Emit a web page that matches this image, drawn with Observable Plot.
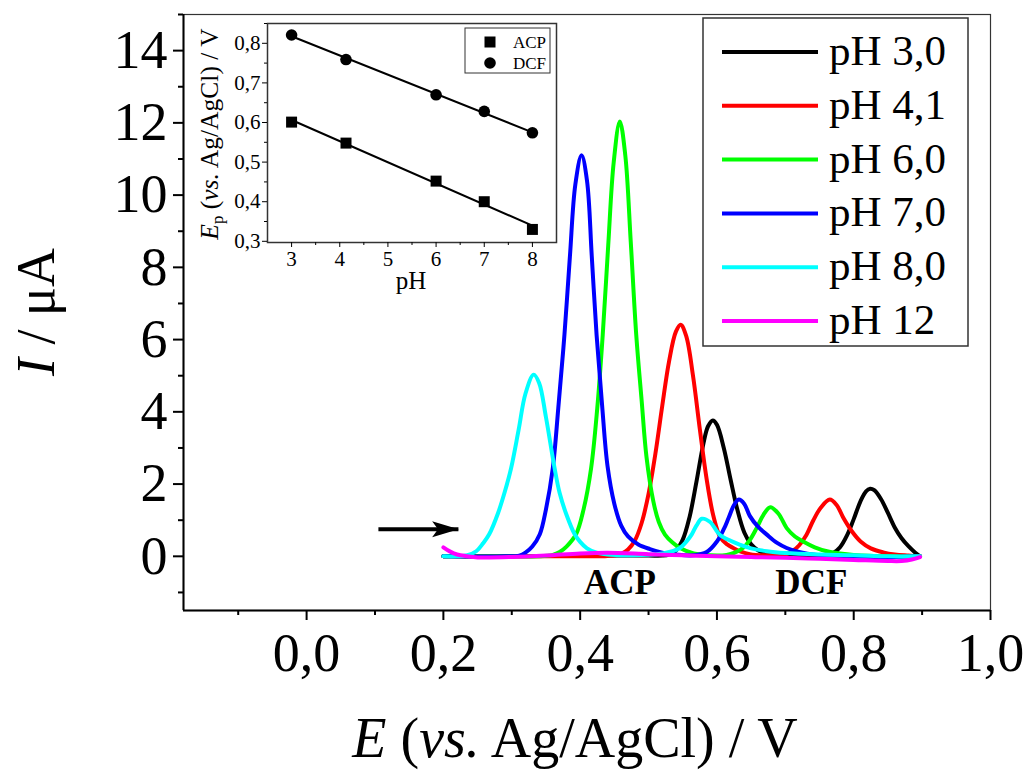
<!DOCTYPE html>
<html><head><meta charset="utf-8">
<script src="https://cdn.jsdelivr.net/npm/d3@7"></script>
<script src="https://cdn.jsdelivr.net/npm/@observablehq/plot@0.6"></script>
<style>
body{margin:0;background:#fff;}
#wrap{position:relative;width:1026px;height:771px;overflow:hidden;}
#inset{position:absolute;left:180px;top:0;}
</style></head><body><div id="wrap"><div id="main"></div><div id="inset"></div></div>
<script>
// ---- series (E / V, I / µA) ----
const seriesNames = ["pH 3,0","pH 4,1","pH 6,0","pH 7,0","pH 8,0","pH 12"];
const seriesColors = ["#000000","#ff0000","#00ff00","#0000ff","#00ffff","#ff00ff"];
const pH30 = [[0.20,0.0],[0.30,0.0],[0.40,0.02],[0.50,0.02],[0.52,0.02],[0.53,0.05],[0.54,0.16],[0.55,0.46],[0.56,1.09],[0.57,2.06],[0.58,3.1],[0.587,3.6],[0.594,3.76],[0.60,3.64],[0.61,3.0],[0.62,2.12],[0.63,1.28],[0.64,0.66],[0.65,0.33],[0.66,0.17],[0.673,0.07],[0.70,0.03],[0.75,0.03],[0.765,0.06],[0.77,0.09],[0.78,0.25],[0.79,0.57],[0.80,1.03],[0.81,1.53],[0.818,1.8],[0.824,1.87],[0.83,1.83],[0.84,1.58],[0.85,1.2],[0.86,0.8],[0.87,0.5],[0.88,0.28],[0.89,0.1],[0.897,0.0]];
const pH41 = [[0.20,0.0],[0.30,0.0],[0.40,0.0],[0.44,0.01],[0.46,0.07],[0.47,0.19],[0.48,0.44],[0.49,0.93],[0.50,1.73],[0.51,2.84],[0.52,4.16],[0.53,5.4],[0.54,6.22],[0.547,6.41],[0.555,6.1],[0.565,5.0],[0.575,3.52],[0.585,2.13],[0.595,1.1],[0.605,0.52],[0.615,0.33],[0.624,0.23],[0.635,0.13],[0.648,0.06],[0.67,0.03],[0.70,0.05],[0.71,0.14],[0.72,0.3],[0.731,0.6],[0.741,1.0],[0.752,1.35],[0.765,1.57],[0.775,1.42],[0.785,1.06],[0.797,0.7],[0.81,0.41],[0.825,0.22],[0.843,0.11],[0.86,0.05],[0.88,0.02],[0.897,0.0]];
const pH60 = [[0.20,0.0],[0.30,0.0],[0.34,0.0],[0.36,0.04],[0.37,0.12],[0.38,0.27],[0.394,0.61],[0.405,1.3],[0.416,2.44],[0.425,4.1],[0.433,6.13],[0.441,8.6],[0.449,10.9],[0.458,12.04],[0.466,11.1],[0.474,8.7],[0.482,6.13],[0.49,4.29],[0.497,2.75],[0.507,1.52],[0.515,0.95],[0.524,0.6],[0.535,0.38],[0.546,0.23],[0.566,0.08],[0.59,0.03],[0.614,0.04],[0.626,0.1],[0.638,0.23],[0.648,0.45],[0.658,0.78],[0.668,1.15],[0.678,1.36],[0.69,1.18],[0.702,0.78],[0.714,0.55],[0.726,0.41],[0.743,0.25],[0.761,0.14],[0.78,0.08],[0.80,0.04],[0.85,0.0],[0.897,0.0]];
const pH70 = [[0.20,0.0],[0.29,0.0],[0.311,0.02],[0.32,0.1],[0.33,0.27],[0.341,0.61],[0.35,1.3],[0.36,2.44],[0.368,4.1],[0.377,6.13],[0.385,8.3],[0.393,10.3],[0.402,11.1],[0.41,10.4],[0.417,8.3],[0.424,6.13],[0.432,4.2],[0.44,2.5],[0.45,1.45],[0.46,0.85],[0.47,0.55],[0.485,0.33],[0.502,0.2],[0.52,0.1],[0.54,0.05],[0.566,0.03],[0.585,0.12],[0.60,0.41],[0.61,0.75],[0.617,1.06],[0.625,1.42],[0.632,1.57],[0.64,1.45],[0.648,1.12],[0.66,0.82],[0.673,0.6],[0.688,0.37],[0.702,0.23],[0.72,0.12],[0.746,0.04],[0.80,0.0],[0.85,-0.02],[0.897,0.0]];
const pH80 = [[0.20,0.0],[0.22,0.0],[0.235,0.03],[0.248,0.14],[0.258,0.36],[0.267,0.61],[0.28,1.2],[0.29,1.8],[0.299,2.44],[0.31,3.5],[0.32,4.5],[0.332,5.03],[0.34,4.8],[0.35,3.85],[0.3626,2.44],[0.37,1.75],[0.38,1.15],[0.392,0.61],[0.40,0.4],[0.41,0.22],[0.424,0.1],[0.44,0.05],[0.47,0.03],[0.50,0.04],[0.521,0.08],[0.535,0.14],[0.546,0.23],[0.555,0.4],[0.563,0.6],[0.57,0.85],[0.578,1.04],[0.59,0.95],[0.604,0.6],[0.62,0.43],[0.634,0.32],[0.65,0.22],[0.673,0.14],[0.70,0.09],[0.75,0.05],[0.80,0.03],[0.85,0.0],[0.897,0.0]];
const pH12 = [[0.20,0.25],[0.21,0.13],[0.22,0.05],[0.235,0.0],[0.25,-0.03],[0.30,-0.02],[0.35,0.02],[0.40,0.08],[0.44,0.1],[0.50,0.06],[0.55,0.03],[0.60,0.0],[0.65,-0.02],[0.70,-0.04],[0.75,-0.07],[0.80,-0.1],[0.85,-0.13],[0.87,-0.13],[0.885,-0.09],[0.897,-0.02]];
const curves = [pH30, pH41, pH60, pH70, pH80, pH12];

const xTicks = [0, 0.2, 0.4, 0.6, 0.8, 1.0];
const xMinorTicks = [-0.1, 0.1, 0.3, 0.5, 0.7, 0.9];
const yTicks = [0, 2, 4, 6, 8, 10, 12, 14];
const yMinorTicks = [-1, 1, 3, 5, 7, 9, 11, 13, 15];
const arrowE = [0.105, 0.222];
const arrowI = [0.75, 0.75];
const peakLabels = ["ACP", "DCF"];
const peakLabelE = [0.458, 0.738];
const peakLabelI = [-0.73, -0.73];

// ---- inset: peak potential vs pH ----
const insetPH = [3, 4.13, 6, 7, 8];
const acpEp = [0.601, 0.548, 0.452, 0.400, 0.330];
const dcfEp = [0.821, 0.759, 0.670, 0.628, 0.574];
const insetXTicks = [3, 4, 5, 6, 7, 8];
const insetXMinor = [3.5, 4.5, 5.5, 6.5, 7.5];
const insetYTicks = [0.3, 0.4, 0.5, 0.6, 0.7, 0.8];
const insetYMinor = [0.35, 0.45, 0.55, 0.65, 0.75, 0.85];
const insetLegend = ["ACP", "DCF"];

const FONT = "'Liberation Serif', 'Times New Roman', Times, serif";
const fmt = d => d.toFixed(1).replace(".", ",");
const rows = curves.flatMap((c, i) => c.map(([E, I]) => ({E, I, s: seriesNames[i]})));
const arrowRow = [{x1: arrowE[0], x2: arrowE[1], y1: arrowI[0], y2: arrowI[1]}];
const labelRows = peakLabels.map((t, i) => ({t, E: peakLabelE[i], I: peakLabelI[i]}));

const stealth = {draw(ctx, size) {
  const L = Math.sqrt(size);
  ctx.moveTo(L * 0.5, 0); ctx.lineTo(-L * 0.5, -L * 0.3); ctx.lineTo(-L * 0.28, 0); ctx.lineTo(-L * 0.5, L * 0.3); ctx.closePath();
}};

const main = Plot.plot({
  width: 1026, height: 771,
  marginLeft: 183, marginRight: 36, marginTop: 14, marginBottom: 161,
  style: {fontFamily: FONT, fontSize: "54px", background: "#fff", color: "#000", overflow: "visible"},
  x: {domain: [-0.18, 1.0]},
  y: {domain: [-1.5, 15]},
  color: {domain: seriesNames, range: seriesColors},
  marks: [
    Plot.frame({stroke: "#333", strokeWidth: 1.2}),
    Plot.ruleX([-0.18], {stroke: "#000", strokeWidth: 2}),
    Plot.ruleY([-1.5], {stroke: "#000", strokeWidth: 2}),
    Plot.axisX({ticks: xTicks, tickSize: 10, tickPadding: 12, tickFormat: fmt, label: null, strokeWidth: 2}),
    Plot.axisX({ticks: xMinorTicks, tickSize: 5, tickFormat: () => "", label: null, strokeWidth: 2}),
    Plot.axisY({ticks: yTicks, tickSize: 10, tickPadding: 6, tickFormat: d => String(d), label: null, strokeWidth: 2}),
    Plot.axisY({ticks: yMinorTicks, tickSize: 5, tickFormat: () => "", label: null, strokeWidth: 2}),
    Plot.line(rows, {x: "E", y: "I", z: "s", stroke: "s", strokeWidth: 4, curve: "catmull-rom"}),
    Plot.link(arrowRow, {x1: "x1", y1: "y1", x2: "x2", y2: "y2", stroke: "#000", strokeWidth: 4, insetRight: 18}),
    Plot.dot(arrowRow, {x: "x2", y: "y2", symbol: stealth, r: 15, fill: "#000", stroke: null, dx: -13}),
    Plot.text(labelRows, {x: "E", y: "I", text: "t", fontSize: 35, fontWeight: "bold", fill: "#000", lineAnchor: "middle", textAnchor: "middle"})
  ]
});
document.getElementById("main").appendChild(main);

const ms = d3.select(main);
// axis titles
ms.append("text").attr("x", 575).attr("y", 757).attr("text-anchor", "middle")
  .attr("font-size", 56).attr("fill", "#000")
  .html('<tspan font-style="italic">E</tspan> (<tspan font-style="italic">vs.</tspan> Ag/AgCl) / V');
ms.append("text").attr("transform", "translate(54,312) rotate(-90)").attr("text-anchor", "middle")
  .attr("font-size", 54).attr("fill", "#000")
  .html('<tspan font-style="italic">I</tspan> / μA');
// legend
const lg = ms.append("g");
lg.append("rect").attr("x", 703).attr("y", 18).attr("width", 265).attr("height", 328)
  .attr("fill", "#fff").attr("stroke", "#333").attr("stroke-width", 1.5);
seriesNames.forEach((n, i) => {
  const y = 52 + i * 53.8;
  lg.append("line").attr("x1", 722).attr("x2", 818).attr("y1", y).attr("y2", y)
    .attr("stroke", seriesColors[i]).attr("stroke-width", 4);
  lg.append("text").attr("x", 829).attr("y", y + 13).attr("text-anchor", "start")
    .attr("font-size", 43).attr("fill", "#000").text(n);
});

// ---- inset ----
const acpRows = insetPH.map((p, i) => ({pH: p, Ep: acpEp[i]}));
const dcfRows = insetPH.map((p, i) => ({pH: p, Ep: dcfEp[i]}));
const inset = Plot.plot({
  width: 400, height: 300,
  marginLeft: 87, marginRight: 24, marginTop: 23, marginBottom: 58,
  style: {fontFamily: FONT, fontSize: "21px", background: "transparent", color: "#000", overflow: "visible"},
  x: {domain: [2.5, 8.5]},
  y: {domain: [0.297, 0.85]},
  marks: [
    Plot.frame({stroke: "#333", strokeWidth: 1.5}),
    Plot.axisX({ticks: insetXTicks, tickSize: 5, tickPadding: 4, tickFormat: d => String(d), label: null}),
    Plot.axisX({ticks: insetXMinor, tickSize: 3, tickFormat: () => "", label: null}),
    Plot.axisY({ticks: insetYTicks, tickSize: 5, tickPadding: 2, tickFormat: fmt, label: null}),
    Plot.axisY({ticks: insetYMinor, tickSize: 3, tickFormat: () => "", label: null}),
    Plot.linearRegressionY(acpRows, {x: "pH", y: "Ep", ci: 0, stroke: "#000", strokeWidth: 2}),
    Plot.linearRegressionY(dcfRows, {x: "pH", y: "Ep", ci: 0, stroke: "#000", strokeWidth: 2}),
    Plot.dot(acpRows, {x: "pH", y: "Ep", symbol: "square", r: 6.2, fill: "#000", stroke: null}),
    Plot.dot(dcfRows, {x: "pH", y: "Ep", symbol: "circle", r: 5.8, fill: "#000", stroke: null})
  ]
});
document.getElementById("inset").appendChild(inset);
const is = d3.select(inset);
is.append("text").attr("transform", "translate(38,134) rotate(-90)").attr("text-anchor", "middle")
  .attr("font-size", 25.5).attr("fill", "#000")
  .html('<tspan font-style="italic">E</tspan><tspan dy="5" font-size="17">p</tspan><tspan dy="-5"> (</tspan><tspan font-style="italic">vs.</tspan> Ag/AgCl) / V');
is.append("text").attr("x", 231).attr("y", 289).attr("text-anchor", "middle")
  .attr("font-size", 25).attr("fill", "#000").text("pH");
const il = is.append("g");
il.append("rect").attr("x", 285).attr("y", 28).attr("width", 85).attr("height", 45)
  .attr("fill", "#fff").attr("stroke", "#333").attr("stroke-width", 1);
il.append("rect").attr("x", 304.5).attr("y", 36.5).attr("width", 11).attr("height", 11).attr("fill", "#000");
il.append("circle").attr("cx", 310).attr("cy", 63).attr("r", 5.8).attr("fill", "#000");
insetLegend.forEach((t, i) => {
  il.append("text").attr("x", 333).attr("y", 42 + i * 21 + 6).attr("text-anchor", "start")
    .attr("font-size", 17).attr("fill", "#000").text(t);
});
</script></body></html>
